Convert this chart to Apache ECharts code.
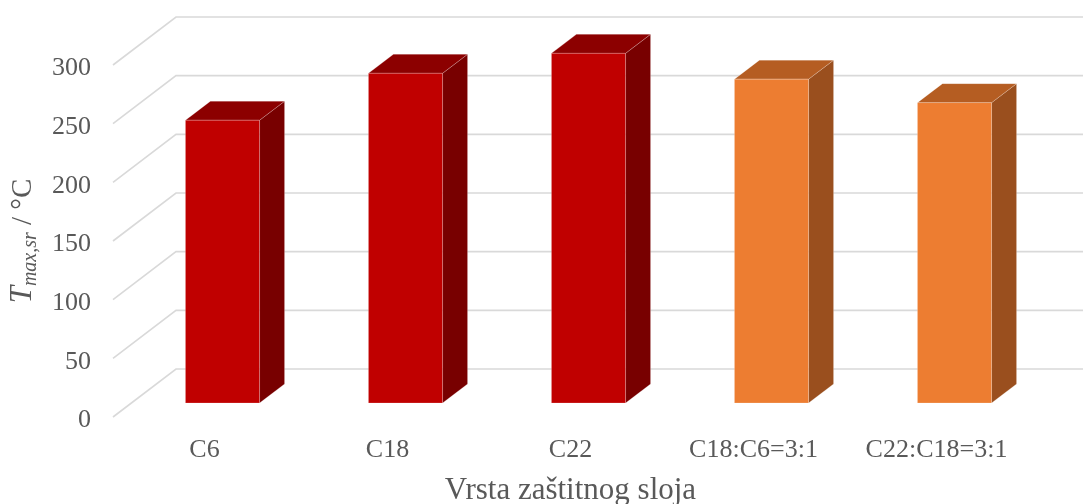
<!DOCTYPE html>
<html>
<head>
<meta charset="utf-8">
<script src="https://cdn.jsdelivr.net/npm/echarts@6/dist/echarts.min.js"></script>
<style>
  html, body { margin: 0; padding: 0; background: #ffffff; }
  #chart { width: 1083px; height: 504px; }
</style>
</head>
<body>
<div id="chart"></div>
<script>
// Protective layer types and their mean maximum temperature (°C)
const categories = ['C6', 'C18', 'C22', 'C18:C6=3:1', 'C22:C18=3:1'];
const tmaxValues = [241, 281, 298, 276, 256];
const yTicks = [0, 50, 100, 150, 200, 250, 300];

// Face colours per bar: [front, top, side]
const redFaces = ['#C00000', '#8C0000', '#780000'];
const orangeFaces = ['#ED7D31', '#B55D22', '#9A4F1E'];
const barFaces = [redFaces, redFaces, redFaces, orangeFaces, orangeFaces];

// Oblique projection of the depth direction
const WALL_DX = 63, WALL_DY = -48;      // floor front edge -> back wall
const BAR_OFF_DX = 18, BAR_OFF_DY = -14; // floor front edge -> bar front face
const BAR_DX = 25, BAR_DY = -19;         // bar depth
const BAR_WIDTH_RATIO = 0.405;

const FONT = '"Liberation Serif", "Times New Roman", serif';
const TEXT = '#595959';

const chart = echarts.init(document.getElementById('chart'));

function renderGridLine(params, api) {
  const cs = params.coordSys;
  const y = api.coord([0, api.value(1)])[1];
  const x0 = cs.x;
  return {
    type: 'polyline',
    shape: {
      points: [
        [x0, y],
        [x0 + WALL_DX, y + WALL_DY],
        [x0 + cs.width + WALL_DX, y + WALL_DY]
      ]
    },
    style: { stroke: '#d9d9d9', lineWidth: 1.6, fill: null },
    silent: true
  };
}

function renderBar(params, api) {
  const idx = api.value(0);
  const base = api.coord([idx, 0]);
  const top = api.coord([idx, api.value(1)]);
  const w = api.size([1, 0])[0] * BAR_WIDTH_RATIO;
  const x0 = base[0] + BAR_OFF_DX - w / 2;
  const x1 = x0 + w;
  const yb = base[1] + BAR_OFF_DY;
  const yt = top[1] + BAR_OFF_DY;
  const faces = barFaces[params.dataIndex];
  const edge = 'rgba(255,255,255,0.35)';
  return {
    type: 'group',
    children: [
      {
        type: 'polygon',
        shape: { points: [[x1, yt], [x1 + BAR_DX, yt + BAR_DY], [x1 + BAR_DX, yb + BAR_DY], [x1, yb]] },
        style: { fill: faces[2], stroke: edge, lineWidth: 0.6 }
      },
      {
        type: 'polygon',
        shape: { points: [[x0, yt], [x1, yt], [x1 + BAR_DX, yt + BAR_DY], [x0 + BAR_DX, yt + BAR_DY]] },
        style: { fill: faces[1], stroke: edge, lineWidth: 0.6 }
      },
      {
        type: 'rect',
        shape: { x: x0, y: yt, width: w, height: yb - yt },
        style: { fill: faces[0], stroke: edge, lineWidth: 0.6 }
      }
    ]
  };
}

chart.setOption({
  animation: false,
  backgroundColor: '#ffffff',
  grid: { left: 113, right: 55, top: 65, bottom: 87, containLabel: false, outerBoundsMode: 'none' },
  xAxis: {
    type: 'category',
    data: categories,
    axisLine: { show: false },
    axisTick: { show: false },
    axisLabel: { color: TEXT, fontFamily: FONT, fontSize: 26, margin: 20, interval: 0 },
    name: 'Vrsta zaštitnog sloja',
    nameLocation: 'middle',
    nameGap: 58,
    nameTextStyle: { color: TEXT, fontFamily: FONT, fontSize: 31 }
  },
  yAxis: {
    type: 'value',
    min: 0,
    max: 300,
    interval: 50,
    axisLine: { show: false },
    axisTick: { show: false },
    splitLine: { show: false },
    axisLabel: {
      color: TEXT, fontFamily: FONT, fontSize: 26, margin: 22,
      formatter: '{v|{value}}',
      rich: { v: { color: TEXT, fontFamily: FONT, fontSize: 26, padding: [7, 0, 0, 0] } }
    },
    name: '{t|T}{s|max,sr}{n| / °C}',
    nameLocation: 'middle',
    nameRotate: 90,
    nameGap: 70,
    nameTextStyle: {
      color: TEXT,
      fontFamily: FONT,
      rich: {
        t: { fontFamily: FONT, fontStyle: 'italic', fontSize: 31, color: TEXT, lineHeight: 36, verticalAlign: 'middle' },
        s: { fontFamily: FONT, fontStyle: 'italic', fontSize: 20, color: TEXT, lineHeight: 36, verticalAlign: 'bottom' },
        n: { fontFamily: FONT, fontSize: 29, color: TEXT, lineHeight: 36, verticalAlign: 'middle' }
      }
    }
  },
  series: [
    {
      type: 'custom',
      name: 'grid',
      z: 1,
      renderItem: renderGridLine,
      encode: { x: 0, y: 1 },
      data: yTicks.map(v => [0, v]),
      silent: true
    },
    {
      type: 'custom',
      name: 'Tmax',
      z: 2,
      renderItem: renderBar,
      encode: { x: 0, y: 1 },
      data: tmaxValues.map((v, i) => [i, v])
    }
  ]
});
</script>
</body>
</html>
